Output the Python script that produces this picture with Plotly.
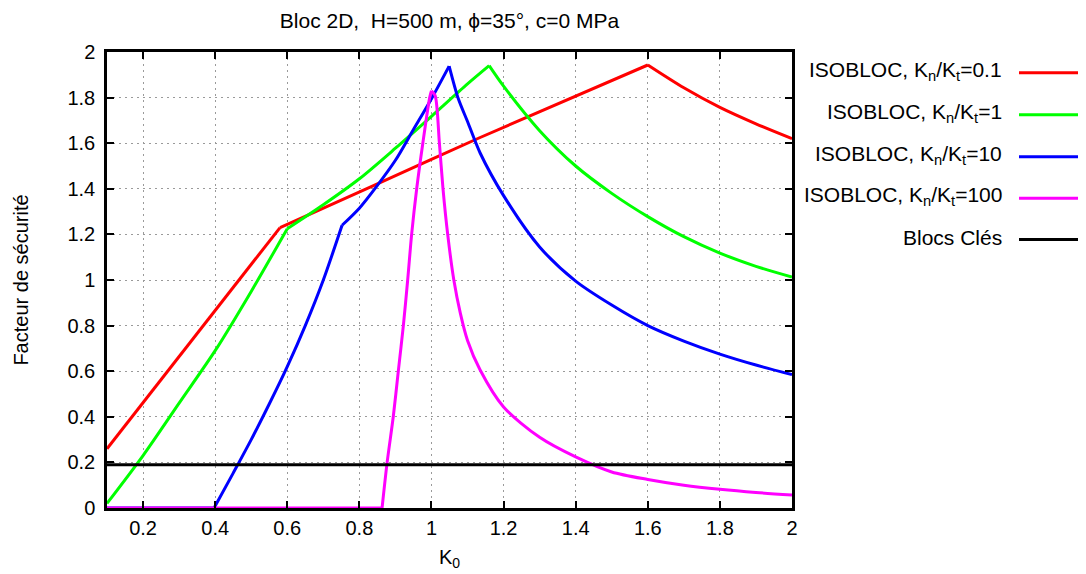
import plotly.graph_objects as go

# ---- data ----
k0_red = [0.1, 0.58, 0.83, 1.135, 1.6, 1.7, 1.8, 1.9, 2.0]
fs_red = [0.26, 1.23, 1.407, 1.625, 1.943, 1.843, 1.757, 1.685, 1.62]

k0_green = [0.1, 0.2, 0.3, 0.4, 0.5, 0.6, 0.7, 0.8, 0.9, 1.0, 1.1, 1.16,
            1.2, 1.3, 1.4, 1.5, 1.6, 1.7, 1.8, 1.9, 2.0]
fs_green = [0.02, 0.23, 0.46, 0.69, 0.95, 1.225, 1.33, 1.444, 1.578, 1.718, 1.86, 1.94,
            1.85, 1.655, 1.50, 1.38, 1.278, 1.19, 1.118, 1.06, 1.013]

k0_blue = [0.1, 0.397, 0.45, 0.5, 0.55, 0.6, 0.65, 0.7, 0.752, 0.8, 0.85, 0.9, 0.95,
           1.0, 1.049, 1.074, 1.1, 1.135, 1.2, 1.3, 1.4, 1.5, 1.6, 1.7, 1.8, 1.9, 2.0]
fs_blue = [0.0, 0.0, 0.153, 0.30, 0.456, 0.62, 0.80, 1.0, 1.24, 1.315, 1.415, 1.525, 1.66,
           1.795, 1.938, 1.797, 1.695, 1.557, 1.37, 1.145, 0.995, 0.89, 0.80, 0.732, 0.675, 0.627, 0.585]

k0_mag = [0.1, 0.863, 0.877, 0.894, 0.908, 0.922, 0.934, 0.945, 0.959, 0.976, 0.995, 1.0,
          1.01, 1.022, 1.032, 1.045, 1.062, 1.08, 1.1, 1.135, 1.2, 1.3, 1.4, 1.5, 1.6,
          1.7, 1.8, 1.9, 2.0]
fs_mag = [0.0, 0.0, 0.2, 0.4, 0.6, 0.8, 1.0, 1.2, 1.4, 1.6, 1.8, 1.83,
          1.81, 1.6, 1.4, 1.2, 1.0, 0.855, 0.735, 0.605, 0.443, 0.31, 0.224, 0.158, 0.125,
          0.10, 0.082, 0.068, 0.057]

k0_cles = [0.1, 2.0]
fs_cles = [0.19, 0.19]

x_ticks = [0.2, 0.4, 0.6, 0.8, 1.0, 1.2, 1.4, 1.6, 1.8, 2.0]
x_ticktext = ["0.2", "0.4", "0.6", "0.8", "1", "1.2", "1.4", "1.6", "1.8", "2"]
y_ticks = [0, 0.2, 0.4, 0.6, 0.8, 1.0, 1.2, 1.4, 1.6, 1.8, 2.0]
y_ticktext = ["0", "0.2", "0.4", "0.6", "0.8", "1", "1.2", "1.4", "1.6", "1.8", "2"]

# name, x, y, colour, indices of the sharp corners (segments between are smooth)
series = [
    ("ISOBLOC, K<sub>n</sub>/K<sub>t</sub>=0.1", k0_red, fs_red, "#ff0000", [0, 1, 4, 8]),
    ("ISOBLOC, K<sub>n</sub>/K<sub>t</sub>=1", k0_green, fs_green, "#00ff00", [0, 5, 11, 20]),
    ("ISOBLOC, K<sub>n</sub>/K<sub>t</sub>=10", k0_blue, fs_blue, "#0000ff", [0, 1, 8, 14, 26]),
    ("ISOBLOC, K<sub>n</sub>/K<sub>t</sub>=100", k0_mag, fs_mag, "#ff00ff", [0, 1, 11, 28]),
    ("Blocs Clés", k0_cles, fs_cles, "#000000", [0, 1]),
]

FONT = "Liberation Sans, Arial, Helvetica, sans-serif"
FS = 20
FS_BIG = 21
fig = go.Figure()
for name, xs, ys, col, brk in series:
    for a, b in zip(brk[:-1], brk[1:]):
        fig.add_trace(go.Scatter(x=xs[a:b + 1], y=ys[a:b + 1], mode="lines", name=name,
                                 line=dict(color=col, width=3, shape="spline", smoothing=0.8)))

# page has an 8px body margin: figure occupies page x 8..1086, y 8..574
W, H = 1078, 566
L, T = 99, 44
R, B = 294, 66
pw, ph = W - L - R, H - T - B
PX0, PY_BOT = 107, 508  # page coords of plot area left / bottom


def px_to_paper_x(p):
    return (p - PX0) / pw


def py_to_paper_y(p):
    return (PY_BOT - p) / ph


# gnuplot-style legend: text right-aligned, sample line to the right
leg_y_px = [72.7, 114.7, 156.7, 198.3, 239.5]
for (name, xs, ys, col, brk), ypx in zip(series, leg_y_px):
    yp = py_to_paper_y(ypx)
    fig.add_annotation(x=px_to_paper_x(1004), y=py_to_paper_y(ypx - 2), xref="paper", yref="paper",
                       text=name, showarrow=False, xanchor="right", yanchor="middle",
                       font=dict(size=FS_BIG, family=FONT, color="black"))
    fig.add_shape(type="line", xref="paper", yref="paper",
                  x0=px_to_paper_x(1019), x1=px_to_paper_x(1086), y0=yp, y1=yp,
                  line=dict(color=col, width=3))

fig.update_layout(
    width=W, height=H,
    margin=dict(l=L, r=R, t=T, b=B, autoexpand=False),
    plot_bgcolor="white", paper_bgcolor="white",
    showlegend=False,
    font=dict(family=FONT, size=FS, color="black"),
    title=dict(text="Bloc 2D,\u00a0 H=500 m, \u03d5=35\u00b0, c=0 MPa",
               x=0.5, xref="paper", xanchor="center",
               y=1 - 13 / H, yref="container", yanchor="middle",
               font=dict(size=FS_BIG, family=FONT)),
)
axis_common = dict(showline=True, linecolor="black", linewidth=2.5, mirror="allticks",
                   ticks="inside", ticklen=7, tickwidth=2, tickcolor="black",
                   showgrid=True, gridcolor="#9a9a9a", griddash="2px,4px", gridwidth=1,
                   zeroline=False, tickfont=dict(size=FS, family=FONT))
fig.update_xaxes(range=[0.1, 2.0], tickvals=x_ticks, ticktext=x_ticktext,
                 title=dict(text="K<sub>0</sub>", standoff=13, font=dict(size=FS)),
                 **axis_common)
fig.update_yaxes(range=[0, 2.0], tickvals=y_ticks, ticktext=y_ticktext,
                 ticklabelstandoff=5,
                 title=dict(text="Facteur de sécurité", standoff=34, font=dict(size=FS)),
                 **axis_common)

fig.write_html("out.html")
